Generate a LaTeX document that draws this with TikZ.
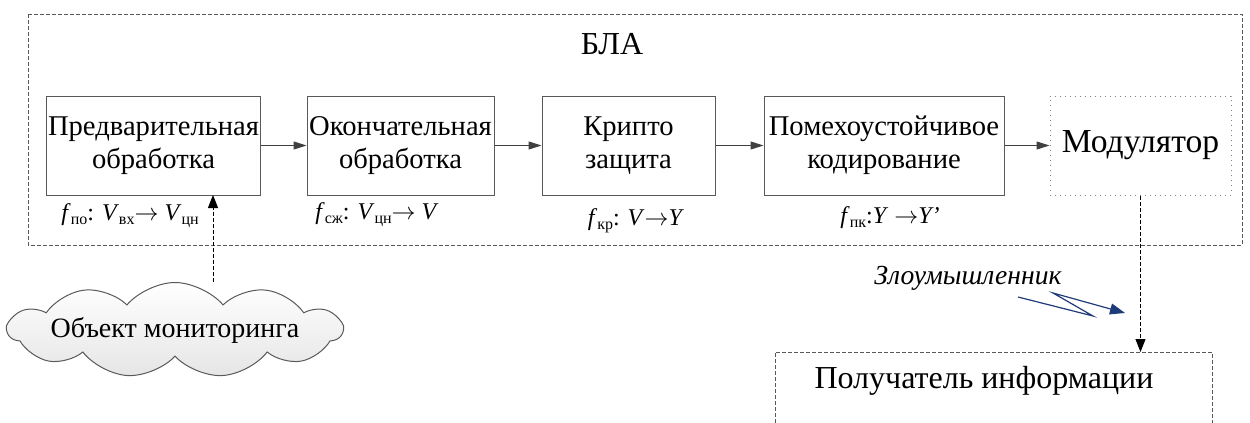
\documentclass[tikz,border=0pt]{standalone}
\usepackage{fontspec}
\setmainfont{Liberation Serif}
\usetikzlibrary{shapes,arrows.meta,positioning,calc}

\definecolor{framegray}{HTML}{595959}
\definecolor{tipgray}{HTML}{404040}
\definecolor{boltblue}{HTML}{1F3A78}

% italic letter with an upright index
\newcommand{\isub}[2]{\textit{#1}\raisebox{-0.45ex}{\fontsize{8}{9}\selectfont #2}}
\newcommand{\maps}{$\rightarrow$}

\begin{document}
\begin{tikzpicture}[x=0.5pt, y=-0.5pt,
    proc/.style={draw=framegray, line width=0.5pt, minimum height=49.5pt, inner sep=1pt,
        align=center, font=\fontsize{14.3}{16.5}\selectfont},
    link/.style={draw=tipgray, line width=0.5pt, -{Triangle[length=6.5pt,width=4pt]}},
    sig/.style={anchor=base, font=\fontsize{12}{14}\selectfont},
    frame/.style={draw=framegray, line width=0.5pt, dash pattern=on 2pt off 1pt},
    tap/.style={black, line width=0.5pt, dash pattern=on 2pt off 1pt, -{Triangle[length=6.5pt,width=5pt]}}]
    \useasboundingbox (0,0) rectangle (1250,423);

    % UAV frame
    \draw[frame] (28,14) rectangle (1242,245);
    \node[font=\fontsize{16}{18}\selectfont] (bla) at (612,44) {БЛА};

    % processing chain
    \node[proc, minimum width=106.5pt] (pre) at (153.5,145.5) {Предварительная\\обработка};
    \node[proc, minimum width=93.5pt] (fin) at (400.5,145.5) {Окончательная\\обработка};
    \node[proc, minimum width=86.5pt] (cry) at (628.5,145.5) {Крипто\\защита};
    \node[proc, minimum width=120pt] (cod) at (884,145.5) {Помехоустойчивое\\кодирование};
    \node[proc, minimum width=90.5pt, draw=gray, dotted, font=\fontsize{16.8}{18}\selectfont] (mod) at (1140.5,145.5) {Модулятор};

    \draw[link] (pre) -- (fin);
    \draw[link] (fin) -- (cry);
    \draw[link] (cry) -- (cod);
    \draw[link] (cod) -- (mod);

    % mappings under the blocks
    \node[sig] (fpo) at (130,220) {\isub{f}{по}: \isub{V}{вх}\maps{} \isub{V}{цн}};
    \node[sig] (fsz) at (377,219) {\isub{f}{сж}: \isub{V}{цн}\maps{} \textit{V}};
    \node[sig] (fkr) at (636,225) {\isub{f}{кр}: \textit{V}\maps\textit{Y}};
    \node[sig] (fpk) at (890,223) {\isub{f}{пк}:\textit{Y} \maps\textit{Y’}};

    % monitored object
    \node[cloud, cloud puffs=11, cloud puff arc=100, aspect=3.5, draw=framegray, line width=0.5pt,
        top color=white, bottom color=gray!20, minimum width=167pt, minimum height=47.5pt] (obj) at (175,330) {};
    \node[font=\fontsize{14}{15}\selectfont] (objtxt) at (obj) {Объект мониторинга};
    \coordinate (in) at (213,195);
    \draw[tap] (in |- obj.north) -- (in);

    % receiver
    \coordinate (rcvtop) at (984,352);
    \draw[frame] (775,423) -- (775,352) -- (1212,352) -- (1212,423);
    \node[anchor=base, font=\fontsize{16}{18}\selectfont] (rcv) at (984,388) {Получатель информации};
    \draw[tap] (mod.south) -- (mod.south |- rcvtop);

    % intruder
    \node[anchor=base, font=\fontsize{13.8}{15}\selectfont\itshape] (evil) at (968,284) {Злоумышленник};
    \coordinate (z1) at (1018,297);
    \coordinate (z2) at (1093,316);
    \coordinate (z3) at (1053,293);
    \coordinate (z4) at (1125,313);
    \draw[boltblue, line width=0.6pt, -{Triangle[length=7.5pt,width=5.5pt]}] (z1) -- (z2) -- (z3) -- (z4);
\end{tikzpicture}
\end{document}
